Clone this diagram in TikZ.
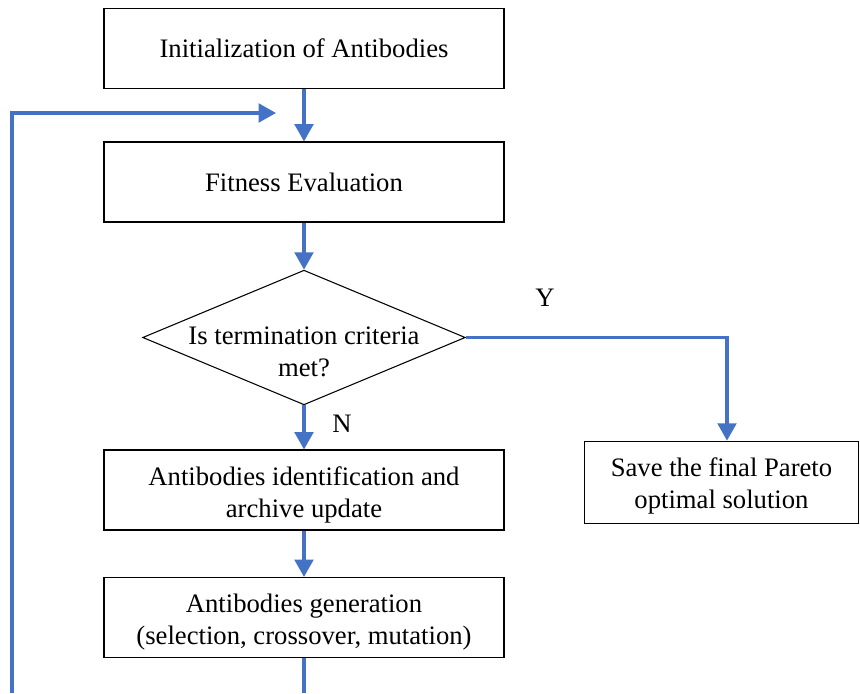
\documentclass[tikz,border=0pt]{standalone}
\usepackage{fontspec}
\setmainfont{Liberation Serif}
\usetikzlibrary{arrows.meta,shapes.geometric,calc}
\definecolor{flowblue}{HTML}{4472C4}
\begin{document}
\begin{tikzpicture}[x=0.75pt,y=-0.75pt,
  font=\fontsize{20}{24}\selectfont,
  procbox/.style={draw=black,line width=0.8pt,minimum width=300pt,minimum height=60pt,align=center,inner sep=0pt},
  decbox/.style={draw=black,line width=0.8pt,diamond,minimum width=242pt,minimum height=101pt,inner sep=0pt},
  flow/.style={draw=flowblue,line width=2.3pt,-{Triangle[length=13pt,width=14pt]}},
  flowline/.style={draw=flowblue,line width=2.3pt},
  lbl/.style={inner sep=0pt,align=center}]
\useasboundingbox (0,0) rectangle (860,693);
\node[procbox] (n1) at (304,48.5) {Initialization of Antibodies};
\node[procbox] (n2) at (304,182) {Fitness Evaluation};
\node[decbox] (d) at (304,337.5) {};
\node[lbl] (dt) at (304,352) {Is termination criteria\\met?};
\node[procbox] (n3) at (304,490) {};
\node[lbl] (n3t) at (304,495) {Antibodies identification and\\archive update};
\node[procbox,minimum width=206pt,minimum height=62pt] (n4) at (721.5,482.5) {};
\node[lbl] (n4t) at (721.5,486) {Save the final Pareto\\optimal solution};
\node[procbox] (n5) at (304,617.5) {};
\node[lbl] (n5t) at (304,622) {Antibodies generation\\(selection, crossover, mutation)};
\node[lbl] (ylab) at (545,298) {Y};
\node[lbl] (nlab) at (342,424) {N};
\coordinate (ycorner) at (727,337.5);
\coordinate (bot1) at (304,693);
\coordinate (bot2) at (12,693);
\coordinate (lcorner) at (12,113);
\coordinate (lend) at (276,113);
\draw[flow] (n1) -- (n2);
\draw[flow] (n2) -- (d.north);
\draw[flow] (d.south) -- (n3);
\draw[flow] (n3) -- (n5);
\draw[flow] (d.east) -- (ycorner) -- (ycorner |- n4.north);
\draw[flowline] (n5) -- (bot1);
\draw[flow] (bot2) -- (lcorner) -- (lend);
\end{tikzpicture}
\end{document}
